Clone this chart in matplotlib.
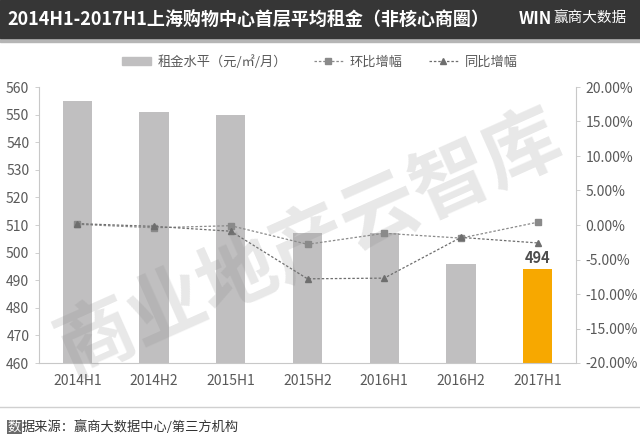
import matplotlib.pyplot as plt
from matplotlib.patches import Rectangle
from matplotlib.lines import Line2D
from matplotlib.ticker import FuncFormatter

plt.rcParams['font.family'] = ['Noto Sans CJK SC', 'DejaVu Sans']

# data
periods = ['2014H1', '2014H2', '2015H1', '2015H2', '2016H1', '2016H2', '2017H1']
rent = [555, 551, 550, 507, 507, 496, 494]
hoh = [0.1, -0.4, -0.1, -2.8, -1.2, -1.9, 0.4]     # 环比增幅 (%)
yoy = [0.2, -0.2, -0.9, -7.8, -7.7, -1.8, -2.6]    # 同比增幅 (%)

bar_colors = ['#c0bfc0'] * (len(rent) - 1) + ['#f7a800']
txt = '#595959'

fig = plt.figure(figsize=(6.4, 4.4), dpi=100)
fig.patch.set_facecolor('white')

# title bar
fig.patches.append(Rectangle((0, 1 - 42 / 440), 1, 4 / 440, transform=fig.transFigure,
                             color='#b5b5b5', zorder=0))
fig.patches.append(Rectangle((0, 1 - 38 / 440), 1, 38 / 440, transform=fig.transFigure,
                             color='#363636', zorder=1))
fig.text(0.012, 1 - 19 / 440, '2014H1-2017H1上海购物中心首层平均租金（非核心商圈）',
         color='white', fontsize=13, fontweight='bold', va='center', ha='left')
fig.text(0.81, 1 - 19 / 440, 'WIN', color='white', fontsize=12, fontweight='bold',
         va='center', ha='left')
fig.text(0.865, 1 - 19 / 440, '赢商大数据', color='white', fontsize=10.5,
         va='center', ha='left')

ax = fig.add_axes([39 / 640, 1 - 363 / 440, 537 / 640, 276 / 440])
x = range(len(periods))
ax.bar(x, rent, width=0.38, color=bar_colors, zorder=2)
ax.set_ylim(460, 560)
ax.set_xlim(-0.5, len(periods) - 0.5)
ax.set_yticks(range(460, 561, 10))
ax.set_xticks(list(x))
ax.set_xticklabels(periods)
ax.text(6, 494 + 1.2, '494', ha='center', va='bottom', fontsize=10.5,
        fontweight='bold', color='#4d4d4d', zorder=5)

ax2 = ax.twinx()
ax2.set_ylim(-20, 20)
ax2.set_yticks(range(-20, 21, 5))
ax2.yaxis.set_major_formatter(FuncFormatter(lambda v, p: '%.2f%%' % v))
ax2.plot(x, hoh, linestyle=(0, (2, 1.5)), color='#8a8a8a', lw=0.9,
         marker='s', markersize=4.5, markerfacecolor='#8a8a8a', markeredgecolor='#8a8a8a',
         zorder=4)
ax2.plot(x, yoy, linestyle=(0, (2, 1.5)), color='#6e6e6e', lw=0.9,
         marker='^', markersize=4.5, markerfacecolor='#6e6e6e', markeredgecolor='#6e6e6e',
         zorder=4)

for a in (ax, ax2):
    for s in a.spines.values():
        s.set_visible(False)
    a.tick_params(colors=txt, labelsize=10, length=3, width=0.6)
    a.tick_params(axis='y', color='#c8c8c8')
ax.tick_params(axis='x', length=0, pad=8)
ax.tick_params(axis='y', pad=4)
ax2.tick_params(axis='y', pad=4)
ax.spines['left'].set_visible(True)
ax.spines['bottom'].set_visible(True)
ax2.spines['right'].set_visible(True)
for s in (ax.spines['left'], ax.spines['bottom'], ax2.spines['right']):
    s.set_color('#c8c8c8')
    s.set_linestyle((0, (1, 1)))
    s.set_linewidth(0.8)

# watermark
fig.text(0.485, 0.445, '商业地产云智库', fontsize=56, color='#8a8a8a', alpha=0.2,
         fontweight='bold', rotation=24, ha='center', va='center', zorder=10)

# legend
handles = [
    Rectangle((0, 0), 1, 1, color='#c0bfc0'),
    Line2D([], [], color='#8a8a8a', lw=0.9, linestyle=(0, (2, 1.5)), marker='s',
           markersize=4),
    Line2D([], [], color='#6e6e6e', lw=0.9, linestyle=(0, (2, 1.5)), marker='^',
           markersize=4),
]
fig.legend(handles, ['租金水平（元/㎡/月）', '环比增幅', '同比增幅'],
           loc='center', bbox_to_anchor=(0.5, 1 - 62 / 440), ncol=3, frameon=False,
           fontsize=9.5, labelcolor=txt, handlelength=2.2, handleheight=0.6,
           columnspacing=2.0, handletextpad=0.5)

# footer
fig.add_artist(Line2D([0, 1], [1 - 407 / 440] * 2, transform=fig.transFigure,
                      color='#d0d0d0', lw=1))
fig.text(0.012, 1 - 427 / 440, '数', fontsize=9.5, color='white', va='center',
         bbox=dict(boxstyle='square,pad=0.05', fc='#6a6a6a', ec='none'))
fig.text(0.034, 1 - 427 / 440, '据来源：赢商大数据中心/第三方机构', fontsize=9.5,
         color='#333333', va='center')

fig.savefig('out.png', dpi=100)
